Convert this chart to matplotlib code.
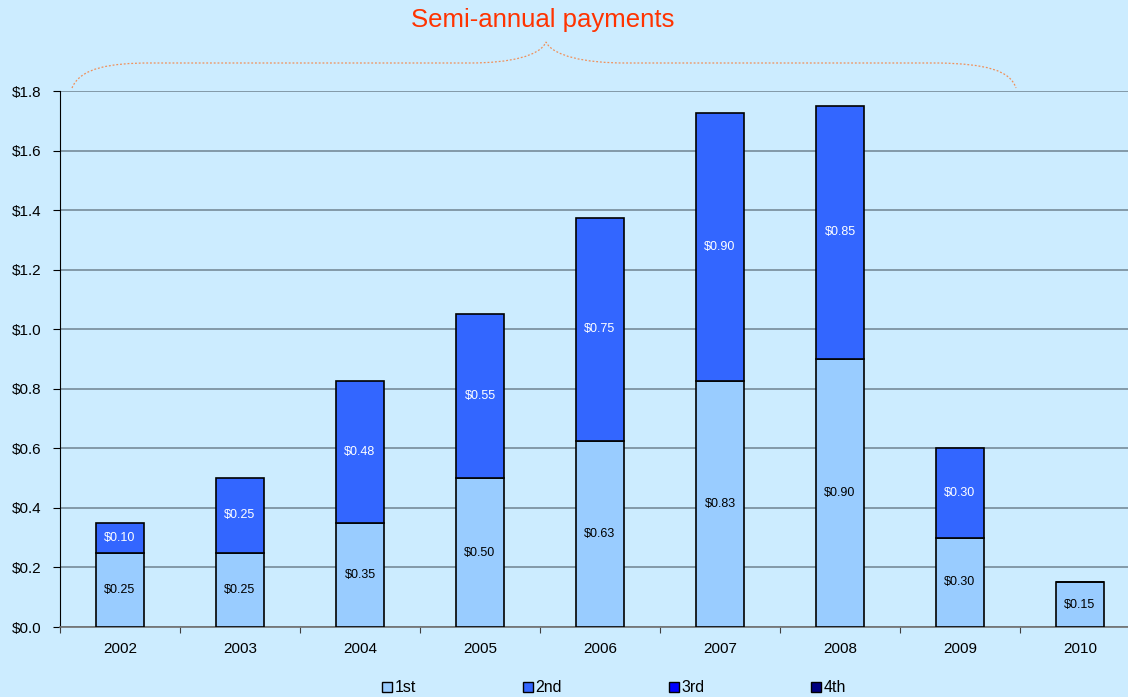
import matplotlib
matplotlib.use("Agg")
import matplotlib.pyplot as plt
from matplotlib.patches import Patch, PathPatch
from matplotlib.path import Path
import numpy as np

plt.rcParams['font.family'] = ['Liberation Sans', 'DejaVu Sans']

years = ["2002", "2003", "2004", "2005", "2006", "2007", "2008", "2009", "2010"]
first = [0.25, 0.25, 0.35, 0.50, 0.625, 0.825, 0.90, 0.30, 0.15]
second = [0.10, 0.25, 0.475, 0.55, 0.75, 0.90, 0.85, 0.30, 0.0]
first_labels = ["$0.25", "$0.25", "$0.35", "$0.50", "$0.63", "$0.83", "$0.90", "$0.30", "$0.15"]
second_labels = ["$0.10", "$0.25", "$0.48", "$0.55", "$0.75", "$0.90", "$0.85", "$0.30", ""]
series_names = ["1st", "2nd", "3rd", "4th"]
series_colors = ["#99CCFF", "#3366FF", "#0000FF", "#000080"]
yticks = [0.0, 0.2, 0.4, 0.6, 0.8, 1.0, 1.2, 1.4, 1.6, 1.8]
title = "Semi-annual payments"

W, H = 1128, 697
bg = "#CCECFF"
fig = plt.figure(figsize=(W / 100, H / 100), dpi=100, facecolor=bg)
ax = fig.add_axes([60 / W, 70 / H, 1080 / W, 536 / H], facecolor=bg)

x = np.arange(len(years))
ax.bar(x, first, width=0.4, color=series_colors[0], edgecolor="black", linewidth=1.2, zorder=3)
ax.bar(x, second, width=0.4, bottom=first, color=series_colors[1], edgecolor="black", linewidth=1.2, zorder=3)

for i in range(len(years)):
    ax.text(x[i], first[i] / 2, first_labels[i], ha="center", va="center", fontsize=9, color="black", zorder=4)
    if second[i] > 0:
        ax.text(x[i], first[i] + second[i] / 2, second_labels[i], ha="center", va="center", fontsize=9, color="white", zorder=4)

ax.set_xlim(-0.5, len(years) - 0.5)
ax.set_ylim(0, 1.8)
ax.set_yticks(yticks)
ax.set_yticklabels(["$%.1f" % v for v in yticks])
ax.yaxis.grid(True, color="#6f8391", linewidth=1.1, zorder=0)
ax.set_axisbelow(True)

ax.set_xticks(np.arange(len(years) + 1) - 0.5)
ax.set_xticklabels([])
ax.set_xticks(x, minor=True)
ax.set_xticklabels(years, minor=True)
ax.tick_params(axis="x", which="major", length=4, color="#404040", direction="out")
ax.tick_params(axis="x", which="minor", length=0, pad=11, labelsize=11)
ax.tick_params(axis="y", length=5, pad=8.5, labelsize=11, color="black")

for s in ["top", "right"]:
    ax.spines[s].set_visible(False)
ax.spines["left"].set_color("black")
ax.spines["bottom"].set_color("#707070")
ax.spines["bottom"].set_linewidth(1.2)

# Title
fig.text(543 / W, 1 - 20 / H, title, ha="center", va="center", fontsize=18.5, color="#FF3300")

# Brace (pixel coords -> figure fraction)
def P(px, py):
    return (px / W, 1 - py / H)

verts = [P(72, 88), P(80, 68), P(110, 63), P(150, 63),
         P(470, 63),
         P(510, 63), P(540, 56), P(546, 42),
         P(553, 56), P(585, 63), P(625, 63),
         P(940, 63),
         P(985, 64), P(1010, 70), P(1016, 88)]
codes = [Path.MOVETO, Path.CURVE4, Path.CURVE4, Path.CURVE4,
         Path.LINETO,
         Path.CURVE4, Path.CURVE4, Path.CURVE4,
         Path.CURVE4, Path.CURVE4, Path.CURVE4,
         Path.LINETO,
         Path.CURVE4, Path.CURVE4, Path.CURVE4]
brace = PathPatch(Path(verts, codes), transform=fig.transFigure, facecolor="none",
                  edgecolor="#F0905A", linewidth=0.9, linestyle=(0, (1.5, 1.5)))
fig.add_artist(brace)

handles = [Patch(facecolor=c, edgecolor="black", linewidth=1.0) for c in series_colors]
fig.legend(handles, series_names, loc="center", bbox_to_anchor=(614 / W, 9 / H), ncol=4,
           frameon=False, fontsize=11.5, handlelength=0.62, handleheight=0.62,
           handletextpad=0.15, columnspacing=6.7, borderpad=0, borderaxespad=0)

fig.savefig("out.png", dpi=100, facecolor=bg)
